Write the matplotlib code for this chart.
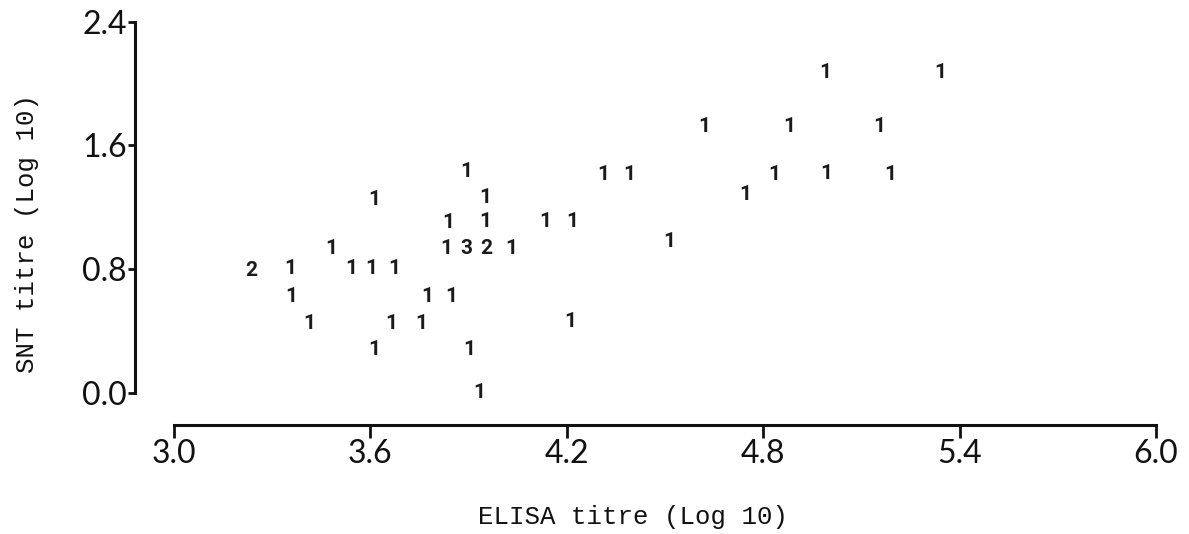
import matplotlib
matplotlib.use("Agg")
import matplotlib.pyplot as plt

# ELISA titre (log10), SNT titre (log10), number of sera at that point
elisa = [4.99, 5.34, 4.62, 4.88, 5.155, 3.894, 4.312, 4.391, 4.834, 4.994,
         5.188, 4.745, 3.612, 3.952, 3.839, 3.95, 4.133, 4.217, 4.512, 3.482,
         3.833, 3.894, 3.955, 4.03, 3.235, 3.354, 3.541, 3.604, 3.672, 3.357,
         3.774, 3.848, 3.413, 3.665, 3.757, 4.21, 3.612, 3.902, 3.932]
snt = [2.07, 2.07, 1.72, 1.72, 1.72, 1.43, 1.41, 1.41, 1.41, 1.42,
       1.41, 1.28, 1.25, 1.26, 1.10, 1.11, 1.11, 1.11, 0.98, 0.93,
       0.93, 0.93, 0.93, 0.93, 0.79, 0.80, 0.80, 0.80, 0.80, 0.62,
       0.62, 0.62, 0.45, 0.45, 0.45, 0.46, 0.28, 0.28, 0.00]
count = [1, 1, 1, 1, 1, 1, 1, 1, 1, 1,
         1, 1, 1, 1, 1, 1, 1, 1, 1, 1,
         1, 3, 2, 1, 2, 1, 1, 1, 1, 1,
         1, 1, 1, 1, 1, 1, 1, 1, 1]

xticks = [3.0, 3.6, 4.2, 4.8, 5.4, 6.0]
yticks = [0.0, 0.8, 1.6, 2.4]

fig = plt.figure(figsize=(11.89, 5.34), dpi=100)
ax = fig.add_axes([0.1135, 0.2041, 0.8705, 0.7678])

ax.set_xlim(2.881, 6.043)
ax.set_ylim(-0.2105, 2.445)

# counts are printed as characters at each point
for x, y, n in zip(elisa, snt, count):
    ax.text(x, y, str(n), ha="center", va="center", fontsize=15,
            fontweight="bold", family=["Roboto", "DejaVu Sans"], color="#1a1a1a")

for s in ["top", "right"]:
    ax.spines[s].set_visible(False)
ax.spines["left"].set_bounds(0.0, 2.4)
ax.spines["bottom"].set_bounds(3.0, 6.0)
for s in ["left", "bottom"]:
    ax.spines[s].set_linewidth(2.2)
    ax.spines[s].set_color("#111111")

ax.set_xticks(xticks)
ax.set_xticklabels([f"{t:.1f}" for t in xticks])
ax.set_yticks(yticks)
ax.set_yticklabels([f"{t:.1f}" for t in yticks])
ax.tick_params(axis="x", direction="out", length=9, width=2, pad=1,
               labelsize=23, colors="#111111")
ax.tick_params(axis="y", direction="out", length=5, width=2, pad=1,
               labelsize=23, colors="#111111")
for lab in ax.get_xticklabels() + ax.get_yticklabels():
    lab.set_family("Lato")

ax.set_xlabel("ELISA titre (Log 10)", family="Liberation Mono", fontsize=18.5,
              va="center", color="#111111")
ax.xaxis.set_label_coords(0.481, -0.224)
ax.set_ylabel("SNT titre (Log 10)", family="Liberation Mono", fontsize=18.5,
              va="center", color="#111111")
ax.yaxis.set_label_coords(-0.104, 0.466)

fig.savefig("out.png", dpi=100)
